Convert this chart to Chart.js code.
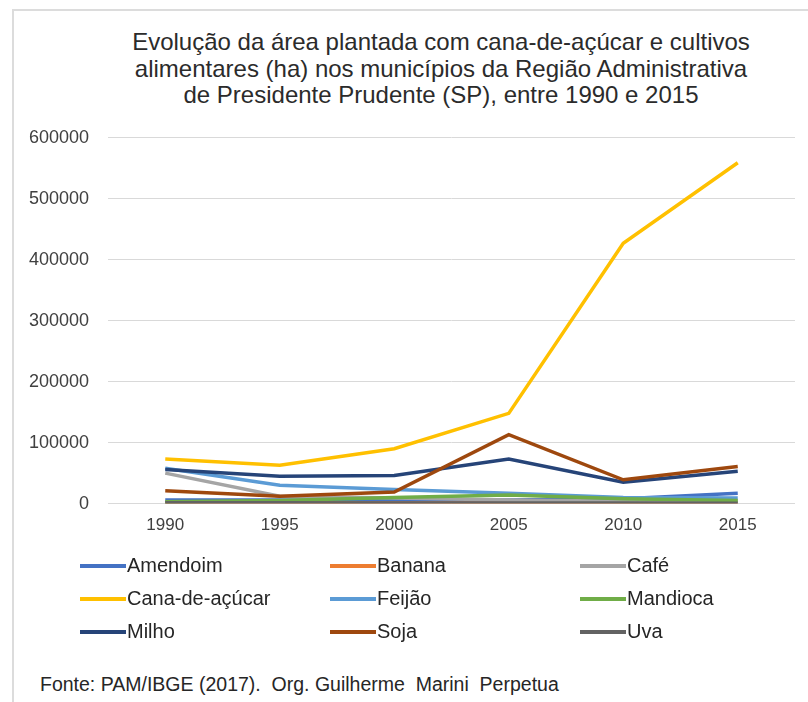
<!DOCTYPE html>
<html lang="pt-BR">
<head>
<meta charset="utf-8">
<title>Área plantada - RA de Presidente Prudente</title>
<script src="https://cdn.jsdelivr.net/npm/chart.js@4"></script>
<style>
  html, body { margin: 0; padding: 0; background: #fff; }
  body { width: 808px; height: 702px; position: relative; overflow: hidden;
         font-family: "Liberation Sans", Arial, sans-serif; }
  #frame { position: absolute; left: 12px; top: 9px; right: 0; bottom: 0;
           border-left: 2px solid #dcdcdc; border-top: 2px solid #dcdcdc; }
  #title { position: absolute; left: 40px; width: 802px; top: 29px;
           text-align: center; font-size: 24px; line-height: 26.5px; color: #2b2b2b; }
  #wrap { position: absolute; left: 0; top: 108px; width: 808px; height: 445px; }
  #legend { position: absolute; left: 80px; top: 549px; width: 750px;
            display: grid; grid-template-columns: 250px 250px 250px; row-gap: 0; }
  .item { display: flex; align-items: center; height: 33px; font-size: 20px; color: #262626; }
  .swatch { width: 46px; height: 4px; margin-right: 1px; }
  #fonte { position: absolute; left: 40px; top: 673px; font-size: 19.5px; color: #262626; white-space: pre; }
</style>
</head>
<body>
<div id="frame"></div>
<div id="title">Evolução da área plantada com cana-de-açúcar e cultivos<br>alimentares  (ha) nos municípios da Região Administrativa<br>de Presidente Prudente (SP), entre 1990 e 2015</div>
<div id="wrap"><canvas id="areaChart"></canvas></div>
<div id="legend"></div>
<div id="fonte">Fonte: PAM/IBGE (2017).  Org. Guilherme  Marini  Perpetua</div>
<script>
// anos e área plantada (ha) por cultura
const anos = ['1990', '1995', '2000', '2005', '2010', '2015'];
const culturas = ['Amendoim', 'Banana', 'Café', 'Cana-de-açúcar', 'Feijão', 'Mandioca', 'Milho', 'Soja', 'Uva'];
const amendoim = [6000, 6000, 5000, 6000, 8000, 17000];
const banana = [1200, 900, 800, 700, 600, 500];
const cafe = [50000, 12000, 9000, 6000, 4000, 3000];
const cana = [73000, 63000, 90000, 148000, 427000, 559000];
const feijao = [58000, 30000, 23000, 17000, 10000, 9000];
const mandioca = [3000, 5000, 10000, 14000, 8000, 5000];
const milho = [56000, 45000, 46000, 73000, 35000, 53000];
const soja = [21000, 12000, 19000, 113000, 39000, 61000];
const uva = [1500, 1200, 1000, 900, 800, 700];
const eixoY = [0, 100000, 200000, 300000, 400000, 500000, 600000];

const series = [amendoim, banana, cafe, cana, feijao, mandioca, milho, soja, uva];
const cores = ['#4472C4', '#ED7D31', '#A5A5A5', '#FFC000', '#5B9BD5', '#70AD47', '#264478', '#9E480E', '#636363'];

const datasets = culturas.map((nome, i) => ({
  label: nome,
  data: series[i],
  borderColor: cores[i],
  backgroundColor: cores[i],
  borderWidth: 3.5,
  pointRadius: 0,
  tension: 0,
  // as últimas culturas ficam por cima, como no Excel
  order: culturas.length - i
}));

const ctx = document.getElementById('areaChart').getContext('2d');
const areaChart = new Chart(ctx, {
  type: 'line',
  data: { labels: anos, datasets: datasets },
  options: {
    responsive: true,
    maintainAspectRatio: false,
    animation: false,
    layout: { padding: { top: 16, right: 13, bottom: 5, left: 0 } },
    plugins: {
      legend: { display: false },
      title: { display: false },
      tooltip: { enabled: false }
    },
    scales: {
      x: {
        offset: true,
        grid: { display: false, drawTicks: false },
        border: { display: false },
        ticks: { color: '#404040', font: { family: 'Liberation Sans', size: 17 }, padding: 12 }
      },
      y: {
        min: 0,
        max: 600000,
        afterFit: scale => { scale.width = 108; },
        afterBuildTicks: scale => { scale.ticks = eixoY.map(v => ({ value: v })); },
        grid: { color: '#d9d9d9', lineWidth: 1, drawTicks: false },
        border: { display: false },
        ticks: {
          color: '#404040',
          font: { family: 'Liberation Sans', size: 18 },
          padding: 19,
          callback: v => String(v)
        }
      }
    }
  }
});

// legenda em três colunas
const legenda = document.getElementById('legend');
areaChart.data.datasets.forEach(ds => {
  const item = document.createElement('div');
  item.className = 'item';
  item.innerHTML = `<span class="swatch" style="background:${ds.borderColor}"></span>${ds.label}`;
  legenda.appendChild(item);
});
</script>
</body>
</html>
